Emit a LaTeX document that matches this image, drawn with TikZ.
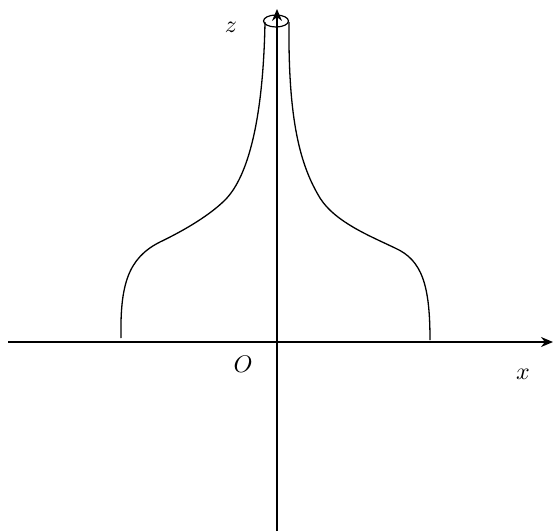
\documentclass[tikz,border=0pt]{standalone}
\usetikzlibrary{arrows.meta}
\begin{document}
\begin{tikzpicture}[x=1pt,y=-1pt,
  axis/.style={line width=1.3pt,-{Stealth[length=12pt,width=10pt]}},
  curve/.style={line width=1.3pt},
  lbl/.style={scale=2.4}]
\useasboundingbox (0,0) rectangle (555,531);
\coordinate (xs) at (8,342);
\coordinate (xe) at (553,342);
\coordinate (zs) at (277,531);
\coordinate (ze) at (277,9);
\draw[axis] (xs) -- (xe);
\draw[axis] (zs) -- (ze);
\draw[curve] (121,338) .. controls (120,285) and (128,258) .. (160,242)
  .. controls (185,230) and (210,215) .. (225,200)
  .. controls (245,180) and (263,130) .. (265,22);
\draw[curve] (289,22) .. controls (288,120) and (300,165) .. (320,198)
  .. controls (335,222) and (370,236) .. (395,248)
  .. controls (422,260) and (430,285) .. (430,340);
\draw[line width=1.2pt] (276,21) ellipse [x radius=12.5, y radius=6];
\node[lbl] (z) at (231,27) {$z$};
\node[lbl] (o) at (243,364) {$O$};
\node[lbl] (x) at (523,374) {$x$};
\end{tikzpicture}
\end{document}
